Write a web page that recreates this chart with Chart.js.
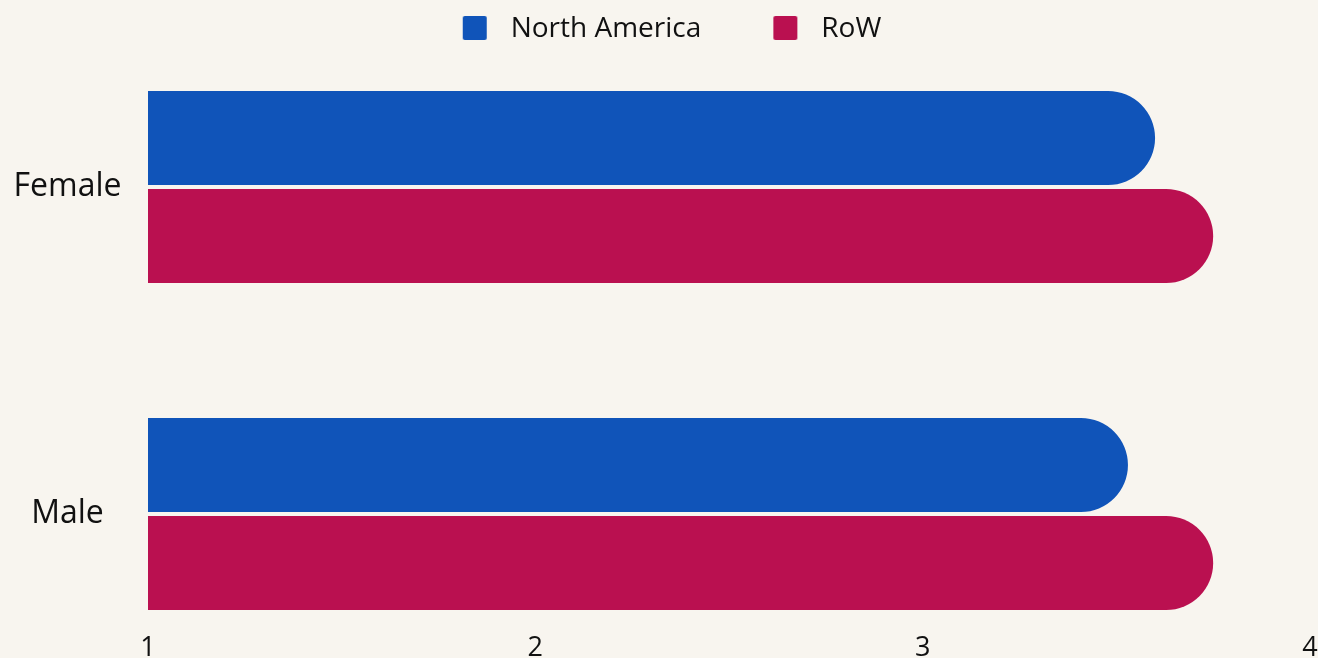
<!DOCTYPE html>
<html>
<head>
<meta charset="utf-8">
<title>North America vs RoW</title>
<script src="https://cdn.jsdelivr.net/npm/chart.js@4.4.0/dist/chart.umd.min.js"></script>
<style>
  html, body { margin: 0; padding: 0; background: #f8f5ef; }
  #wrap { width: 1318px; height: 658px; }
</style>
</head>
<body>
<div id="wrap"><canvas id="genderChart"></canvas></div>
<script>
const categories = ["Female", "Male"];
const seriesNames = ["North America", "RoW"];
const northAmerica = [3.6, 3.53];
const restOfWorld = [3.75, 3.75];
const xTicks = [1, 2, 3, 4];

const BLUE = "#1054b9";
const RED = "#ba1050";
const INK = "#111111";
const FONT = '"Open Sans", sans-serif';

// legend marker: small rounded square sitting inside a wider transparent box,
// so the gap between the square and its label can be set freely
const SWATCH_W = 60;
function swatch(color) {
  const c = document.createElement("canvas");
  c.width = SWATCH_W;
  c.height = 28;
  const g = c.getContext("2d");
  g.fillStyle = color;
  g.beginPath();
  g.roundRect(26, 1, 24, 24, 2);
  g.fill();
  return c;
}
const swatches = [swatch(BLUE), swatch(RED)];

// pushes the plot area down below the legend
const legendSpace = {
  id: "legendSpace",
  beforeInit(chart) {
    const fit = chart.legend.fit;
    chart.legend.fit = function () {
      fit.bind(chart.legend)();
      this.height = 218;
    };
  }
};

const ctx = document.getElementById("genderChart").getContext("2d");

new Chart(ctx, {
  type: "bar",
  plugins: [legendSpace],
  data: {
    labels: categories,
    datasets: [
      { label: seriesNames[0], data: northAmerica, backgroundColor: BLUE },
      { label: seriesNames[1], data: restOfWorld, backgroundColor: RED }
    ]
  },
  options: {
    indexAxis: "y",
    responsive: true,
    maintainAspectRatio: false,
    animation: false,
    layout: { padding: { top: -31, left: 0, right: 0, bottom: 0 } },
    datasets: {
      bar: {
        base: 1,
        categoryPercentage: 0.5994,
        barPercentage: 0.9592,
        borderRadius: 50,
        borderSkipped: "start",
        borderWidth: 0,
        clip: false
      }
    },
    scales: {
      x: {
        type: "linear",
        min: 1,
        max: 4,
        afterBuildTicks: (scale) => { scale.ticks = xTicks.map((v) => ({ value: v })); },
        afterFit: (scale) => {
          // labels sit far below the bars; keep that gap out of the side padding
          scale.height = 144;
          scale.paddingLeft = 0;
          scale.paddingRight = 8;
        },
        grid: { display: false, drawTicks: false },
        border: { display: false },
        ticks: {
          color: INK,
          padding: 120.5,
          font: { family: FONT, size: 27, lineHeight: 1 }
        }
      },
      y: {
        type: "category",
        offset: false,
        afterFit: (scale) => { scale.width = 148; },
        grid: { display: false, drawTicks: false },
        border: { display: false },
        ticks: {
          color: INK,
          crossAlign: "center",
          padding: 26.5,
          font: { family: FONT, size: 32 }
        }
      }
    },
    plugins: {
      tooltip: { enabled: false },
      legend: {
        position: "top",
        labels: {
          color: INK,
          padding: 46,
          usePointStyle: true,
          pointStyleWidth: SWATCH_W,
          font: { family: FONT, size: 28 },
          generateLabels(chart) {
            const items = Chart.defaults.plugins.legend.labels.generateLabels(chart);
            items.forEach((item, i) => { item.pointStyle = swatches[i]; });
            return items;
          }
        }
      }
    }
  }
});
</script>
</body>
</html>
